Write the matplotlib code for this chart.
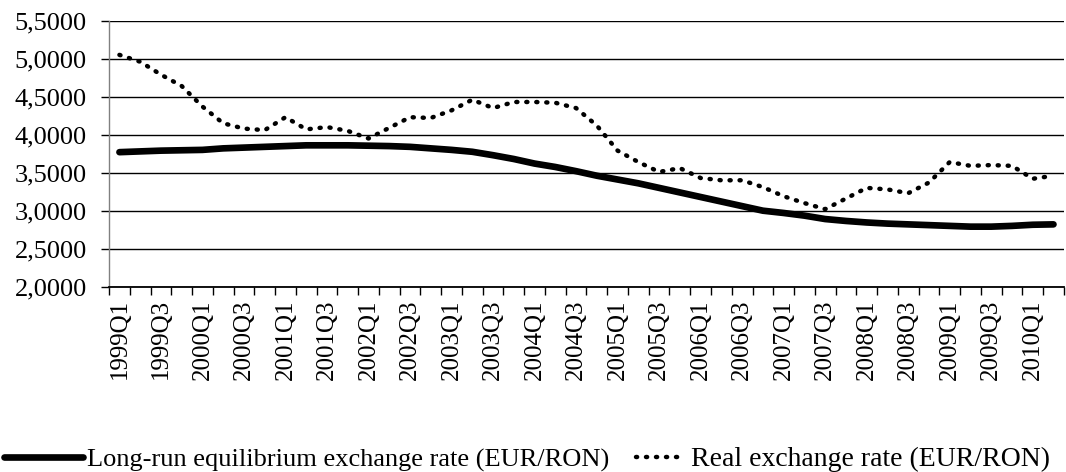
import matplotlib
matplotlib.use("Agg")
import matplotlib.pyplot as plt
from matplotlib.ticker import FixedLocator, NullFormatter

quarters = ["%dQ%d" % (y, q) for y in range(1999, 2011) for q in range(1, 5)][:46]

equilibrium = [3.77, 3.78, 3.79, 3.795, 3.80, 3.82, 3.83, 3.84, 3.85, 3.86,
               3.86, 3.86, 3.855, 3.85, 3.84, 3.82, 3.80, 3.775, 3.73, 3.68,
               3.62, 3.575, 3.52, 3.46, 3.41, 3.36, 3.30, 3.24, 3.18, 3.12,
               3.06, 3.00, 2.97, 2.935, 2.89, 2.865, 2.845, 2.83, 2.82, 2.81,
               2.80, 2.79, 2.79, 2.80, 2.815, 2.82]

real = [5.05, 4.96, 4.79, 4.64, 4.37, 4.15, 4.08, 4.06, 4.23, 4.07,
        4.10, 4.05, 3.95, 4.09, 4.23, 4.22, 4.32, 4.46, 4.35, 4.43,
        4.43, 4.42, 4.35, 4.12, 3.79, 3.64, 3.51, 3.56, 3.43, 3.40,
        3.40, 3.31, 3.19, 3.10, 3.02, 3.16, 3.30, 3.28, 3.23, 3.37,
        3.64, 3.59, 3.60, 3.59, 3.42, 3.46]

yticks = [2.0, 2.5, 3.0, 3.5, 4.0, 4.5, 5.0, 5.5]
ytick_labels = ["2,0000", "2,5000", "3,0000", "3,5000",
                "4,0000", "4,5000", "5,0000", "5,5000"]

plt.rcParams['font.family'] = ['Liberation Serif', 'DejaVu Serif']

fig = plt.figure(figsize=(10.66, 4.72), dpi=100)
ax = fig.add_axes([0.1023, 0.3926, 0.8957, 0.5636])

x = list(range(len(quarters)))
line1, = ax.plot(x, equilibrium, color='black', lw=4.8, solid_capstyle='round',
                 zorder=3)
line2, = ax.plot(x, real, color='black', lw=3.2, linestyle=(0, (0.25, 2.0)),
                 dash_capstyle='round', zorder=4)

ax.set_xlim(-0.5, len(quarters) - 0.5)
ax.set_ylim(2.0, 5.5)

# horizontal grid
for v in yticks:
    ax.axhline(v, color='black', lw=1.0, zorder=1)

ax.set_yticks(yticks)
ax.set_yticklabels(ytick_labels, fontsize=19)
ax.tick_params(axis='y', length=6, width=1.0, color='black', pad=10)

# labels every second quarter, ticks at category boundaries
ax.set_xticks(x[::2])
ax.set_xticklabels(quarters[::2], rotation=90, fontsize=18)
ax.tick_params(axis='x', which='major', length=0, pad=9)
ax.xaxis.set_minor_locator(FixedLocator([i - 0.5 for i in range(len(quarters) + 1)]))
ax.xaxis.set_minor_formatter(NullFormatter())
ax.tick_params(axis='x', which='minor', length=6, width=1.0, color='black')

for s in ['top', 'right']:
    ax.spines[s].set_visible(False)
ax.spines['left'].set_color('#808080')
ax.spines['left'].set_linewidth(1.0)
ax.spines['bottom'].set_linewidth(1.3)

leg1 = fig.legend([line1], ['Long-run equilibrium exchange rate (EUR/RON)'],
                  loc='center left', bbox_to_anchor=(0.004, 0.026),
                  frameon=False, fontsize=19, handlelength=3.0,
                  handletextpad=0.15, borderpad=0, borderaxespad=0)
leg2 = fig.legend([line2], ['Real exchange rate (EUR/RON)'],
                  loc='center left', bbox_to_anchor=(0.597, 0.026),
                  frameon=False, fontsize=20, handlelength=1.7,
                  handletextpad=0.25, borderpad=0, borderaxespad=0)

fig.savefig('out.png', dpi=100)
